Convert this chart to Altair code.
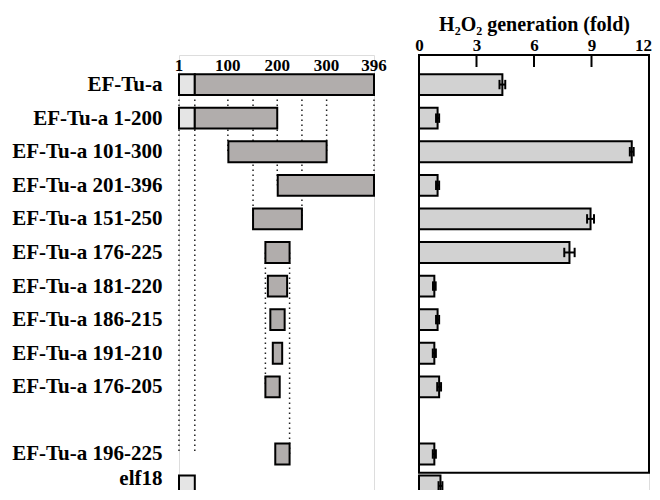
import altair as alt
import pandas as pd

# ---------------- data ----------------
labels = ["EF-Tu-a", "EF-Tu-a 1-200", "EF-Tu-a 101-300", "EF-Tu-a 201-396",
          "EF-Tu-a 151-250", "EF-Tu-a 176-225", "EF-Tu-a 181-220", "EF-Tu-a 186-215",
          "EF-Tu-a 191-210", "EF-Tu-a 176-205", "EF-Tu-a 196-225", "elf18"]
rows = [0, 1, 2, 3, 4, 5, 6, 7, 8, 9, 11, 11.95]

# fragment spans (residues); elf18 shown as the N-terminal box
frag_start = [1, 1, 101, 201, 151, 176, 181, 186, 191, 176, 196, 1]
frag_end = [396, 200, 300, 396, 250, 225, 220, 215, 210, 205, 225, 33]
nterm_end = 33  # light N-terminal segment (elf18 region)

# H2O2 generation (fold) and error
fold = [4.35, 0.97, 11.1, 0.97, 8.95, 7.85, 0.8, 0.97, 0.8, 1.05, 0.8, 1.12]
err = [0.15, 0.08, 0.1, 0.08, 0.18, 0.27, 0.07, 0.08, 0.08, 0.1, 0.08, 0.1]

residue_ticks = [1, 100, 200, 300, 396]
fold_ticks = [0, 3, 6, 9, 12]

# dotted guide lines: residue position, from row, to row
guide_pos = [1, 33, 100, 151, 200, 250, 300, 396, 176, 225]
guide_from = [0, 0, 0, 0, 0, 0, 0, 0, 5, 5]
guide_to = [11, 11, 2, 4, 3, 4, 2, 3, 9, 11]

frame_top, frame_bottom = -0.88, 11.56
y_domain = [-0.88, 12.4]
# label positions (the last label is nudged up so it stays inside the page)
label_rows = rows[:-1] + [11.74]

# ---------------- tables ----------------
seg_rows, seg_s, seg_e, seg_kind = [], [], [], []
for lab, r, s, e in zip(labels, rows, frag_start, frag_end):
    if lab == "elf18":
        seg_rows.append(r); seg_s.append(s); seg_e.append(e); seg_kind.append("n")
    elif s == 1:
        seg_rows += [r, r]; seg_s += [1, nterm_end]; seg_e += [nterm_end, e]; seg_kind += ["n", "c"]
    else:
        seg_rows.append(r); seg_s.append(s); seg_e.append(e); seg_kind.append("c")
seg_df = pd.DataFrame({"row": seg_rows, "start": seg_s, "end": seg_e, "kind": seg_kind})
guide_df = pd.DataFrame({"pos": guide_pos, "r0": guide_from, "r1": guide_to})
tick_df = pd.DataFrame({"pos": residue_ticks, "row": [-0.55] * len(residue_ticks),
                        "txt": [str(t) for t in residue_ticks]})
bar_df = pd.DataFrame({"row": rows, "fold": fold, "err": err, "label": labels})
frame_df = pd.DataFrame({"x0": [0], "x1": [12], "y0": [frame_top], "y1": [frame_bottom]})
ftick_df = pd.DataFrame({"v": fold_ticks[1:-1]})

FONT = "Liberation Serif"
H = 446
half = 0.31
cap = 0.14

label_expr = "[" + ",".join("'%s'" % l for l in labels) + "][indexof([" + \
    ",".join(str(r) for r in label_rows) + "], datum.value)]"

yscale = alt.Scale(domain=y_domain, reverse=True, nice=False, zero=False)
yaxis = alt.Axis(values=label_rows, labelExpr=label_expr, domain=False, ticks=False, grid=False,
                 title=None, labelFont=FONT, labelFontSize=21, labelFontWeight="bold",
                 labelColor="black", labelPadding=17, labelBaseline="middle")
xres = alt.Scale(domain=[1, 396], nice=False, zero=False)

# ---------------- left panel ----------------
guides = alt.Chart(guide_df).mark_rule(strokeDash=[1.5, 3.5], strokeWidth=1.5, color="#222").encode(
    x=alt.X("pos:Q", scale=xres, axis=None),
    y=alt.Y("r0:Q", scale=yscale, axis=yaxis),
    y2="r1:Q",
)
segs = alt.Chart(seg_df).mark_rect(stroke="black", strokeWidth=2).transform_calculate(
    y0="datum.row - %f" % half, y1="datum.row + %f" % half
).encode(
    x=alt.X("start:Q", scale=xres, axis=None),
    x2="end:Q",
    y=alt.Y("y0:Q", scale=yscale, axis=yaxis),
    y2="y1:Q",
    fill=alt.Fill("kind:N", scale=alt.Scale(domain=["n", "c"], range=["#e5e5e5", "#b1adac"]), legend=None),
)
res_text = alt.Chart(tick_df).mark_text(font=FONT, fontSize=17, fontWeight="bold",
                                          baseline="middle", align="center", color="black").encode(
    x=alt.X("pos:Q", scale=xres, axis=None),
    y=alt.Y("row:Q", scale=yscale, axis=yaxis),
    text="txt:N",
)
left = alt.layer(guides, segs, res_text).properties(width=195, height=H)

# ---------------- right panel ----------------
xfold = alt.Scale(domain=[0, 12], nice=False, zero=True)
xaxis = alt.Axis(orient="top", values=fold_ticks, ticks=False, domain=False, grid=False,
                 labelFont=FONT, labelFontSize=17, labelFontWeight="bold", labelColor="black",
                 labelPadding=1, labelFlush=False,
                 labelOffset={"condition": {"test": "datum.value == 12", "value": -6}, "value": 0},
                 title="H\u2082O\u2082 generation (fold)", titleFont=FONT, titleFontSize=20,
                 titleFontWeight="bold", titleColor="black", titlePadding=2)

frame = alt.Chart(frame_df).mark_rect(fillOpacity=0, stroke="black", strokeWidth=2).encode(
    x=alt.X("x0:Q", scale=xfold, axis=xaxis),
    x2="x1:Q",
    y=alt.Y("y0:Q", scale=yscale, axis=None),
    y2="y1:Q",
)
fticks = alt.Chart(ftick_df).mark_rule(color="black", strokeWidth=2).encode(
    x=alt.X("v:Q", scale=xfold, axis=xaxis),
    y=alt.value(0),
    y2=alt.value(12),
)
bars = alt.Chart(bar_df).mark_rect(fill="#d2d2d2", stroke="black", strokeWidth=2).transform_calculate(
    y0="datum.row - %f" % half, y1="datum.row + %f" % half, zero="0"
).encode(
    x=alt.X("zero:Q", scale=xfold, axis=xaxis),
    x2="fold:Q",
    y=alt.Y("y0:Q", scale=yscale, axis=None),
    y2="y1:Q",
)
ebar = alt.Chart(bar_df).mark_rule(color="black", strokeWidth=2).transform_calculate(
    lo="datum.fold - datum.err", hi="datum.fold + datum.err"
).encode(
    x=alt.X("lo:Q", scale=xfold, axis=xaxis),
    x2="hi:Q",
    y=alt.Y("row:Q", scale=yscale, axis=None),
)
caps_df_t = alt.Chart(bar_df).transform_calculate(
    lo="datum.fold - datum.err", hi="datum.fold + datum.err",
    c0="datum.row - %f" % cap, c1="datum.row + %f" % cap
).transform_fold(["lo", "hi"], as_=["side", "xv"])
caps = caps_df_t.mark_rule(color="black", strokeWidth=2).encode(
    x=alt.X("xv:Q", scale=xfold, axis=xaxis),
    y=alt.Y("c0:Q", scale=yscale, axis=None),
    y2="c1:Q",
)
right = alt.layer(bars, ebar, caps, frame, fticks).properties(width=230, height=H)

chart = alt.hconcat(left, right, spacing=26).configure_view(stroke=None).configure(
    font=FONT
).properties(padding={"left": 3, "right": 0, "top": 5, "bottom": -12})

chart.save("out.html", embed_options={"renderer": "svg", "actions": False})
